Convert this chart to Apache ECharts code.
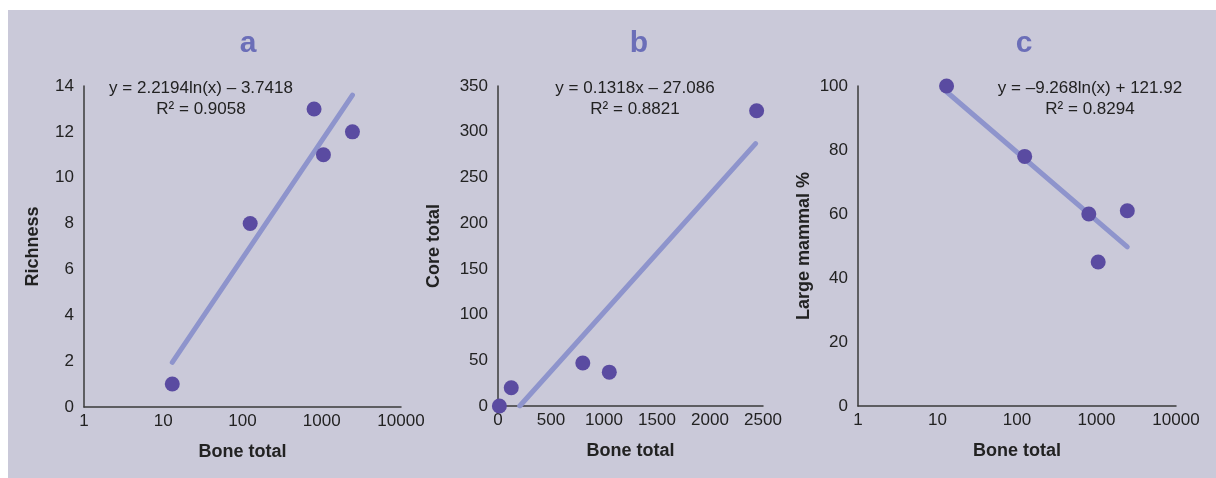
<!DOCTYPE html>
<html>
<head>
<meta charset="utf-8">
<script src="https://cdn.jsdelivr.net/npm/echarts@6/dist/echarts.min.js"></script>
<style>
  html, body { margin: 0; padding: 0; background: #ffffff; }
  #panel { position: absolute; left: 8px; top: 10px; width: 1208px; height: 468px; background: #CAC9D9; }
  #chart { position: absolute; left: 0; top: 0; width: 1216px; height: 478px; }
</style>
</head>
<body>
<div id="panel"></div>
<div id="chart"></div>
<script>
// ---- data ----
const boneTotal   = [13, 125, 800, 1050, 2440];
const richness    = [1, 8, 13, 11, 12];
const coreTotal   = [0, 20, 47, 37, 323];
const largeMammal = [100, 78, 60, 45, 61];

// trendline end points (as drawn)
const trendA = [[13, 1.95], [2440, 13.6]];
const trendB = [[205, 0], [2430, 287]];
const trendC = [[13, 98.2], [2440, 49.7]];

const panelTitles = ['a', 'b', 'c'];
const equations = [
  'y = 2.2194ln(x) – 3.7418\nR² = 0.9058',
  'y = 0.1318x – 27.086\nR² = 0.8821',
  'y = –9.268ln(x) + 121.92\nR² = 0.8294'
];
const yNames = ['Richness', 'Core total', 'Large mammal %'];
const xName = 'Bone total';
const logTicks = ['1', '10', '100', '1000', '10000'];

// ---- styling ----
const FONT = 'Liberation Sans';
const textColor = '#222222';
const axisColor = '#3a3a3a';
const dotColor = '#5A4BA1';
const trendColor = '#8E94CC';
const titleColor = '#6B6EB8';

const pairs = (xs, ys) => xs.map((x, i) => [x, ys[i]]);

const grids = [
  { left: 84, top: 86, width: 317, height: 321 },
  { left: 498, top: 86, width: 265, height: 320 },
  { left: 858, top: 86, width: 318, height: 320 }
];

function baseAxis() {
  return {
    axisLine: { show: true, lineStyle: { color: axisColor, width: 1.5 } },
    axisTick: { show: false },
    splitLine: { show: false },
    nameTextStyle: { color: textColor, fontFamily: FONT, fontSize: 18, fontWeight: 'bold' },
    nameLocation: 'middle'
  };
}
function labelStyle(margin, fmt) {
  return { color: textColor, fontFamily: FONT, fontSize: 17, margin: margin, formatter: fmt };
}
const plain = v => String(v);

function logX(gi) {
  return Object.assign(baseAxis(), {
    type: 'log', logBase: 10, min: 1, max: 10000, gridIndex: gi,
    name: xName, nameGap: 36,
    axisLabel: labelStyle(6, v => logTicks[Math.round(Math.log10(v))])
  });
}

const xAxes = [
  logX(0),
  Object.assign(baseAxis(), {
    type: 'value', min: 0, max: 2500, interval: 500, gridIndex: 1,
    name: xName, nameGap: 36,
    axisLabel: labelStyle(6, plain)
  }),
  logX(2)
];

const yAxes = [
  Object.assign(baseAxis(), { type: 'value', min: 0, max: 14, interval: 2, gridIndex: 0,
    name: yNames[0], nameGap: 42, axisLabel: labelStyle(10, plain) }),
  Object.assign(baseAxis(), { type: 'value', min: 0, max: 350, interval: 50, gridIndex: 1,
    name: yNames[1], nameGap: 55, axisLabel: labelStyle(10, plain) }),
  Object.assign(baseAxis(), { type: 'value', min: 0, max: 100, interval: 20, gridIndex: 2,
    name: yNames[2], nameGap: 45, axisLabel: labelStyle(10, plain) })
];

function trend(i, data) {
  return { type: 'line', xAxisIndex: i, yAxisIndex: i, data: data, symbol: 'none',
    lineStyle: { color: trendColor, width: 5, cap: 'round' }, z: 2, silent: true };
}
function dots(i, data) {
  return { type: 'scatter', xAxisIndex: i, yAxisIndex: i, data: data, symbolSize: 15,
    itemStyle: { color: dotColor, opacity: 1 }, z: 3, silent: true };
}

const titleX = [243, 634, 1019];
const eqX = [196, 630, 1085];
const titles = [];
panelTitles.forEach((t, i) => {
  titles.push({ text: t, left: titleX[i], top: 24, textAlign: 'center',
    textStyle: { color: titleColor, fontFamily: FONT, fontSize: 30, fontWeight: 'bold' } });
  titles.push({ text: equations[i], left: eqX[i], top: 73, textAlign: 'center',
    textStyle: { color: textColor, fontFamily: FONT, fontSize: 17, fontWeight: 'normal', lineHeight: 21 } });
});

const chart = echarts.init(document.getElementById('chart'), null, { renderer: 'canvas' });
chart.setOption({
  backgroundColor: 'transparent',
  animation: false,
  title: titles,
  grid: grids,
  xAxis: xAxes,
  yAxis: yAxes,
  series: [
    trend(0, trendA), dots(0, pairs(boneTotal, richness)),
    trend(1, trendB), dots(1, pairs(boneTotal, coreTotal)),
    trend(2, trendC), dots(2, pairs(boneTotal, largeMammal))
  ]
});
</script>
</body>
</html>
